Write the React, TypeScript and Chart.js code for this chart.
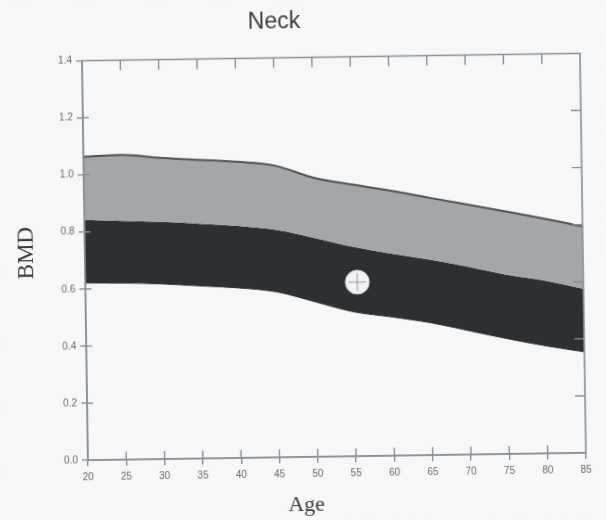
import React, { useEffect, useRef } from "react";
import { Chart, registerables } from "chart.js";

Chart.register(...registerables);

// Reference curves for femoral neck BMD by age (g/cm²)
const ages = [20, 25, 30, 35, 40, 45, 50, 55, 60, 65, 70, 75, 80, 85];
const upperBmd = [1.064, 1.068, 1.056, 1.047, 1.038, 1.022, 0.978, 0.952, 0.929, 0.902, 0.876, 0.85, 0.823, 0.793];
const meanBmd = [0.842, 0.837, 0.831, 0.823, 0.813, 0.797, 0.767, 0.734, 0.708, 0.685, 0.658, 0.628, 0.605, 0.575];
const lowerBmd = [0.621, 0.619, 0.614, 0.605, 0.596, 0.58, 0.543, 0.506, 0.486, 0.464, 0.434, 0.404, 0.377, 0.354];

// Measured patient value
const patientAge = [55.5];
const patientBmd = [0.61];

const ageTickStep = 5;
const bmdTickStep = 0.2;

const BG = "#f6f7f9";
const AXIS = "#8c8f93";
const LIGHT_BAND = "#a3a6ab";
const DARK_BAND = "#2c3033";

const toPoints = (xs: number[], ys: number[]) => xs.map((x, i) => ({ x, y: ys[i] }));

const framePlugin = {
  id: "frame",
  beforeDraw(chart: any) {
    const { ctx, width, height } = chart;
    ctx.save();
    ctx.fillStyle = BG;
    ctx.fillRect(0, 0, width, height);
    ctx.restore();
  },
  afterDraw(chart: any) {
    const { ctx, chartArea, scales } = chart;
    const { left, right, top, bottom } = chartArea;
    const xs = scales.x;
    const ys = scales.y;
    ctx.save();
    ctx.strokeStyle = AXIS;
    ctx.lineWidth = 1.6;
    ctx.beginPath();
    ctx.moveTo(left, bottom);
    ctx.lineTo(left, top);
    ctx.lineTo(right, top);
    ctx.lineTo(right, bottom);
    ctx.lineTo(left, bottom);
    ctx.stroke();

    ctx.lineWidth = 1.4;
    ctx.beginPath();
    xs.ticks.forEach((t: any) => {
      const px = xs.getPixelForValue(t.value);
      if (px <= left + 1 || px >= right - 1) return;
      ctx.moveTo(px, bottom);
      ctx.lineTo(px, bottom - 8);
      ctx.moveTo(px, top);
      ctx.lineTo(px, top + 10);
    });
    ys.ticks.forEach((t: any) => {
      const py = ys.getPixelForValue(t.value);
      if (py <= top + 1 || py >= bottom - 1) return;
      ctx.moveTo(left, py);
      ctx.lineTo(left + 6, py);
      ctx.moveTo(right, py);
      ctx.lineTo(right - 10, py);
    });
    ctx.stroke();

    // Titles
    ctx.fillStyle = "#3c3c3c";
    ctx.textAlign = "center";
    ctx.textBaseline = "middle";
    ctx.font = "23px 'Liberation Sans', Arial, sans-serif";
    ctx.fillText("Neck", 277.5, 22);

    ctx.font = "22px 'Liberation Serif', 'Times New Roman', serif";
    ctx.fillText("Age", 303, 505);

    ctx.save();
    ctx.translate(27, 249);
    ctx.rotate(-Math.PI / 2);
    ctx.font = "23px 'Liberation Serif', 'Times New Roman', serif";
    ctx.fillText("BMD", 0, 0);
    ctx.restore();

    ctx.restore();
  },
};

export default function App() {
  const canvasRef = useRef<HTMLCanvasElement | null>(null);

  useEffect(() => {
    if (!canvasRef.current) return;
    const chart = new Chart(canvasRef.current, {
      type: "line",
      data: {
        datasets: [
          {
            label: "-1 SD",
            data: toPoints(ages, lowerBmd),
            borderColor: DARK_BAND,
            borderWidth: 1,
            pointRadius: 0,
            fill: false,
            cubicInterpolationMode: "monotone",
            order: 3,
          },
          {
            label: "Mean",
            data: toPoints(ages, meanBmd),
            borderColor: DARK_BAND,
            borderWidth: 0,
            backgroundColor: DARK_BAND,
            pointRadius: 0,
            fill: "-1",
            cubicInterpolationMode: "monotone",
            order: 2,
          },
          {
            label: "+1 SD",
            data: toPoints(ages, upperBmd),
            borderColor: "#505356",
            borderWidth: 2,
            backgroundColor: LIGHT_BAND,
            pointRadius: 0,
            fill: "-1",
            cubicInterpolationMode: "monotone",
            order: 1,
          },
          {
            label: "Patient",
            data: toPoints(patientAge, patientBmd),
            showLine: false,
            pointRadius: 12,
            pointBackgroundColor: "#f2f3f5",
            pointBorderColor: "#c9cbce",
            pointBorderWidth: 1,
            order: -1,
          },
          {
            label: "Patient marker",
            data: toPoints(patientAge, patientBmd),
            showLine: false,
            pointStyle: "cross",
            pointRadius: 9,
            pointBorderColor: "#9b9da0",
            pointBorderWidth: 1,
            order: -2,
          },
        ],
      },
      options: {
        animation: false,
        responsive: false,
        events: [],
        layout: { padding: { left: 0, right: 23, top: 57.5, bottom: 0 } },
        plugins: {
          legend: { display: false },
          tooltip: { enabled: false },
          title: { display: false },
        },
        scales: {
          x: {
            type: "linear",
            position: "bottom",
            min: ages[0],
            max: ages[ages.length - 1],
            ticks: {
              stepSize: ageTickStep,
              color: "#6a6a6a",
              padding: 5,
              maxRotation: 0,
              font: { size: 10, family: "'Liberation Sans', Arial, sans-serif" },
            },
            grid: { drawOnChartArea: false, tickLength: 6, color: AXIS, lineWidth: 1.4 },
            border: { color: AXIS, width: 1.6 },
            afterFit: (scale: any) => {
              scale.height = 63;
            },
          },
          y: {
            type: "linear",
            position: "left",
            min: 0,
            max: 1.4,
            ticks: {
              stepSize: bmdTickStep,
              color: "#6a6a6a",
              padding: 4,
              font: { size: 10, family: "'Liberation Sans', Arial, sans-serif" },
              callback: (v: any) => Number(v).toFixed(1),
            },
            grid: { drawOnChartArea: false, tickLength: 6, color: AXIS, lineWidth: 1.4 },
            border: { color: AXIS, width: 1.6 },
            afterFit: (scale: any) => {
              scale.width = 85;
            },
          },
        },
      },
      plugins: [framePlugin],
    });
    return () => chart.destroy();
  }, []);

  return (
    <div
      style={{
        position: "fixed",
        left: 0,
        top: 0,
        width: 606,
        height: 520,
        overflow: "hidden",
        background: BG,
      }}
    >
      <canvas
        ref={canvasRef}
        width={606}
        height={520}
        style={{
          display: "block",
          width: 606,
          height: 520,
          transform: "rotate(-0.85deg)",
          transformOrigin: "303px 260px",
        }}
      />
    </div>
  );
}
